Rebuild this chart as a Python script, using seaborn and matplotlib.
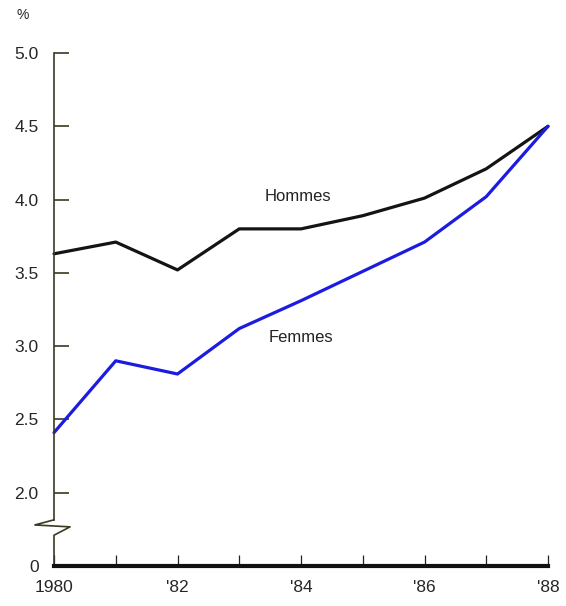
import pandas as pd
import matplotlib.pyplot as plt
import seaborn as sns

# taux (%) par année
annees = [1980, 1981, 1982, 1983, 1984, 1985, 1986, 1987, 1988]
hommes = [3.63, 3.71, 3.52, 3.80, 3.80, 3.89, 4.01, 4.21, 4.50]
femmes = [2.41, 2.90, 2.81, 3.12, 3.31, 3.51, 3.71, 4.02, 4.50]

y_ticks = [1.5, 2.0, 2.5, 3.0, 3.5, 4.0, 4.5, 5.0]
y_labels = ["0", "2.0", "2.5", "3.0", "3.5", "4.0", "4.5", "5.0"]
x_labels = ["1980", "", "'82", "", "'84", "", "'86", "", "'88"]

df = pd.DataFrame({
    "annee": annees * 2,
    "taux": hommes + femmes,
    "sexe": ["Hommes"] * len(annees) + ["Femmes"] * len(annees),
})

sns.set_style("white")
plt.rcParams["font.family"] = ["Liberation Sans", "DejaVu Sans"]

fig = plt.figure(figsize=(5.66, 6.06), dpi=100)
ax = fig.add_axes([54 / 566, 40 / 606, 494 / 566, 513 / 606])

sns.lineplot(data=df, x="annee", y="taux", hue="sexe",
             palette={"Hommes": "#141414", "Femmes": "#1c1ce0"},
             linewidth=2.3, legend=False, ax=ax)
for line in ax.lines:
    line.set_clip_on(False)

ax.set_xlim(1980, 1988)
ax.set_ylim(1.5, 5.0)
ax.set_xticks(annees)
ax.set_xticklabels(x_labels)
ax.set_yticks(y_ticks)
ax.set_yticklabels(y_labels)
ax.set_xlabel("")
ax.set_ylabel("")

for s in ["top", "right"]:
    ax.spines[s].set_visible(False)
ax.spines["bottom"].set_linewidth(3)
ax.spines["bottom"].set_color("#111111")
ax.spines["left"].set_color("#3a3a22")
ax.spines["left"].set_linewidth(1.2)
ax.spines["left"].set_bounds(1.815, 5.0)

ax.tick_params(axis="y", direction="in", length=11, width=1.2,
               color="#3a3a22", labelsize=12.5, pad=11, left=True)
ax.tick_params(axis="x", direction="in", length=8, width=0.9,
               color="#222222", labelsize=12.5, pad=10, bottom=True)

# coupure de l'axe
ax.plot([1980, 1979.69, 1980.26, 1980, 1980],
        [1.815, 1.78, 1.767, 1.71, 1.5],
        color="#3a3a22", linewidth=1.2, clip_on=False)

ax.text(1983.95, 4.02, "Hommes", fontsize=12, color="#222222",
        ha="center", va="center")
ax.text(1984.0, 3.06, "Femmes", fontsize=12, color="#222222",
        ha="center", va="center")

fig.text(23 / 566, 1 - 15 / 606, "%", fontsize=10, ha="center", va="center")

fig.savefig("out.png", dpi=100)
